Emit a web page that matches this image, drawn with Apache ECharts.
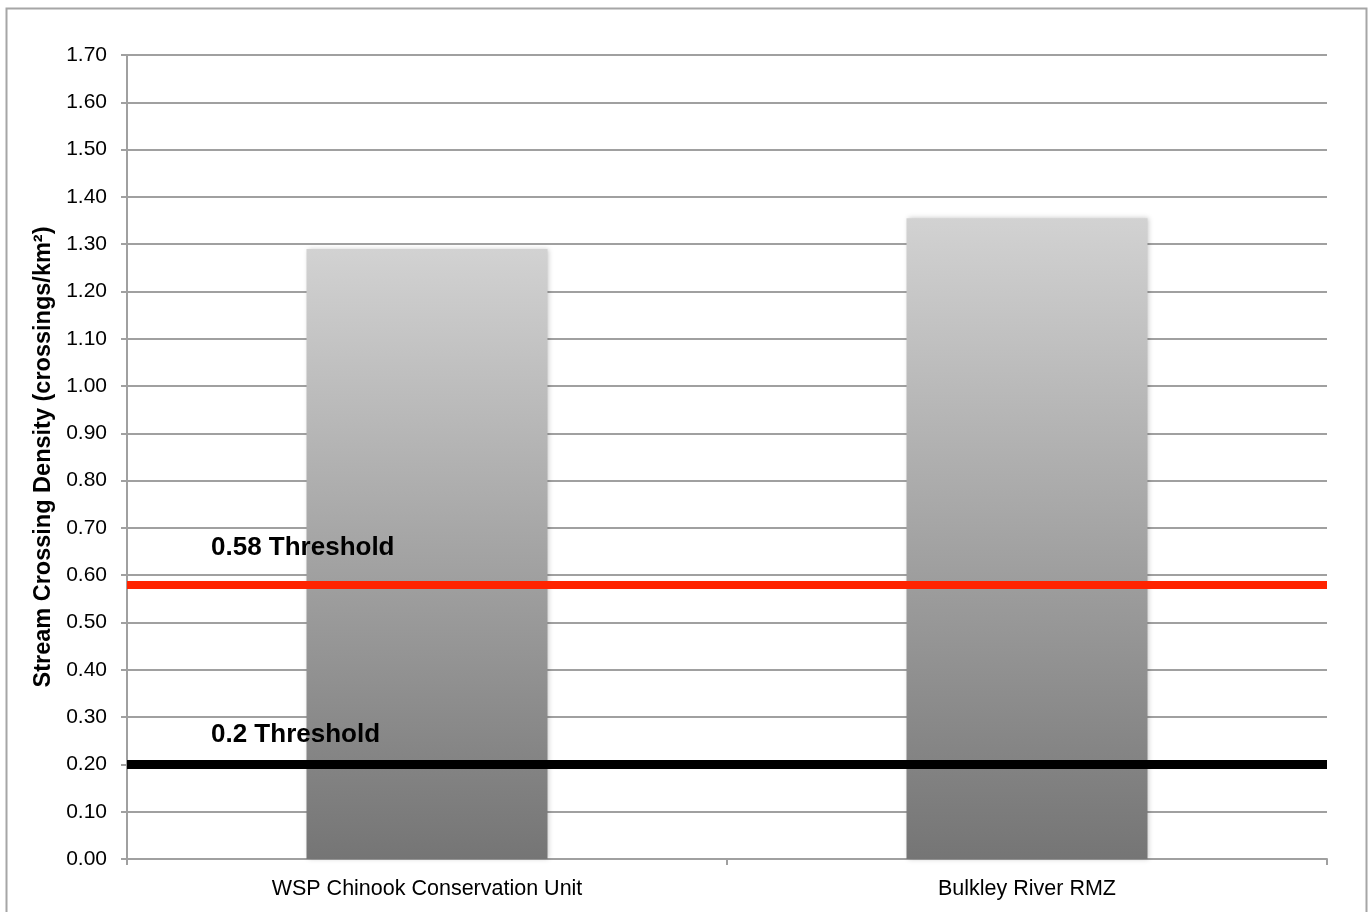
<!DOCTYPE html>
<html>
<head>
<meta charset="utf-8">
<title>Stream Crossing Density</title>
<script src="https://cdn.jsdelivr.net/npm/echarts@6/dist/echarts.min.js"></script>
<style>
  html, body { margin: 0; padding: 0; background: #ffffff; }
  #chart { width: 1372px; height: 912px; }
</style>
</head>
<body>
<div id="chart"></div>
<script>
// Watershed units and their stream crossing densities (crossings per km²)
const categories = ['WSP Chinook Conservation Unit', 'Bulkley River RMZ'];
const densities = [1.29, 1.355];

// Reference thresholds drawn across the plot
const thresholdValues = [0.58, 0.2];
const thresholdLabels = ['0.58 Threshold', '0.2 Threshold'];

// Y axis range and step
const yMin = 0;
const yMax = 1.7;
const yStep = 0.1;

const chart = echarts.init(document.getElementById('chart'), null, { renderer: 'canvas' });

const fontFamily = 'Liberation Sans, Arial, Helvetica, sans-serif';

// Per-threshold line styling and label spacing above the line
const lineColors = ['#ff2400', '#000000'];
const lineWidths = [8, 9];
const labelLift = [24, 17];

const option = {
  backgroundColor: '#ffffff',
  animation: false,
  graphic: [{
    type: 'rect',
    shape: { x: 6.5, y: 8.5, width: 1360, height: 920 },
    style: { fill: 'none', stroke: '#a6a6a6', lineWidth: 2 },
    silent: true
  }],
  grid: { left: 127, right: 45, top: 55, bottom: 53 },
  xAxis: {
    type: 'category',
    data: categories,
    boundaryGap: true,
    axisLine: { lineStyle: { color: '#a0a0a0', width: 2 } },
    axisTick: { show: true, length: 6, lineStyle: { color: '#a0a0a0', width: 2 } },
    axisLabel: { color: '#000', fontSize: 21.5, fontFamily: fontFamily, margin: 19 },
    splitLine: { show: false }
  },
  yAxis: {
    type: 'value',
    min: yMin,
    max: yMax,
    interval: yStep,
    name: 'Stream Crossing Density (crossings/km²)',
    nameLocation: 'middle',
    nameGap: 66,
    nameTextStyle: { color: '#000', fontSize: 23.5, fontWeight: 'bold', fontFamily: fontFamily },
    axisLine: { show: true, lineStyle: { color: '#a0a0a0', width: 2 } },
    axisTick: { show: true, length: 6, lineStyle: { color: '#a0a0a0', width: 2 } },
    axisLabel: {
      color: '#000', fontSize: 21, fontFamily: fontFamily, margin: 20,
      formatter: v => v.toFixed(2)
    },
    splitLine: { show: true, lineStyle: { color: '#a0a0a0', width: 2 } }
  },
  series: [{
    type: 'bar',
    data: densities,
    barWidth: 241,
    itemStyle: {
      color: new echarts.graphic.LinearGradient(0, 0, 0, 1, [
        { offset: 0, color: '#d2d2d2' },
        { offset: 1, color: '#757575' }
      ]),
      shadowColor: 'rgba(0,0,0,0.22)',
      shadowBlur: 5,
      shadowOffsetX: 1
    },
    silent: true,
    markLine: {
      silent: true,
      symbol: 'none',
      animation: false,
      data: thresholdValues.map((v, i) => ({
        yAxis: v,
        lineStyle: { color: lineColors[i], width: lineWidths[i], type: 'solid' },
        label: {
          show: true,
          position: 'insideStartTop',
          distance: [84, labelLift[i]],
          formatter: thresholdLabels[i],
          color: '#000',
          fontSize: 26,
          fontWeight: 'bold',
          fontFamily: fontFamily
        }
      }))
    }
  }]
};

chart.setOption(option);
</script>
</body>
</html>
